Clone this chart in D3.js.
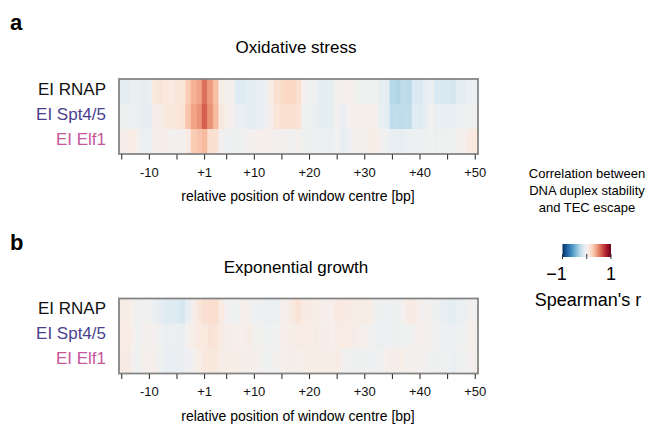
<!DOCTYPE html>
<html lang="en">
<head>
<meta charset="UTF-8">
<title>Duplex stability vs TEC escape</title>
<script src="https://d3js.org/d3.v7.min.js"></script>
<style>
  body { margin: 0; background: #fff; }
  svg text { font-family: "Liberation Sans", Arial, Helvetica, sans-serif; }
</style>
</head>
<body>
<svg id="chart" width="649" height="424"></svg>
<script>
// window centre positions (no position 0)
var positions = [-15,-14,-13,-12,-11,-10,-9,-8,-7,-6,-5,-4,-3,-2,-1,
  1,2,3,4,5,6,7,8,9,10,11,12,13,14,15,16,17,18,19,20,21,22,23,24,25,
  26,27,28,29,30,31,32,33,34,35,36,37,38,39,40,41,42,43,44,45,46,47,48,49,50];
var tickPositions = [-15,-10,-5,1,5,10,15,20,25,30,35,40,45,50];
var labelledTicks = [-10,1,10,20,30,40,50];

var rowNames = ["EI RNAP", "EI Spt4/5", "EI Elf1"];
var rowColors = ["#111111", "#4a3f8e", "#c5579b"];

// Spearman's r, oxidative stress
var oxRNAP = [-0.10,-0.10,-0.06,-0.06,-0.08,-0.05,0.10,0.12,0.10,0.08,0.12,0.12,0.25,0.35,0.40,
  0.55,0.42,0.30,0.05,0.00,0.00,-0.12,-0.12,-0.10,-0.10,-0.08,-0.05,0.05,0.15,0.18,
  0.20,0.20,0.15,0.02,-0.02,-0.04,-0.10,-0.10,-0.08,0.00,0.01,0.02,0.01,-0.02,-0.03,
  -0.02,-0.03,-0.08,-0.10,-0.28,-0.30,-0.25,-0.27,-0.15,-0.15,-0.10,-0.06,-0.15,-0.15,-0.15,
  -0.17,-0.10,-0.10,-0.06,-0.05];
var oxSpt = [-0.03,-0.03,-0.05,-0.05,-0.08,-0.08,0.04,0.06,0.10,0.10,0.12,0.14,0.28,0.40,0.45,
  0.60,0.45,0.32,0.10,0.05,0.02,-0.07,-0.07,-0.10,-0.10,-0.08,-0.05,0.04,0.12,0.15,
  0.15,0.15,0.14,-0.02,-0.03,-0.06,-0.08,-0.10,-0.08,0.00,-0.07,0.00,0.03,0.03,0.03,
  0.03,0.03,-0.07,-0.10,-0.25,-0.25,-0.25,-0.25,-0.12,-0.12,-0.08,-0.01,-0.07,-0.07,-0.07,
  -0.07,-0.04,-0.04,-0.02,-0.02];
var oxElf = [0.04,0.05,0.07,0.00,-0.06,-0.06,0.04,0.05,0.04,-0.01,-0.01,0.00,0.08,0.25,0.28,
  0.32,0.16,0.15,0.00,-0.04,-0.04,-0.03,-0.02,0.00,0.02,0.03,0.03,0.04,0.00,-0.01,
  -0.01,-0.02,0.02,-0.03,-0.04,-0.05,-0.06,-0.06,-0.05,-0.02,-0.08,-0.05,-0.01,0.00,0.00,
  0.06,0.05,0.00,-0.02,-0.07,-0.08,-0.07,-0.05,-0.04,-0.04,-0.03,-0.02,-0.03,-0.03,-0.02,
  -0.02,0.01,0.02,0.08,0.10];

// Spearman's r, exponential growth
var expRNAP = [0.05,0.07,0.02,-0.04,-0.01,-0.02,-0.05,-0.09,-0.12,-0.12,-0.13,-0.16,-0.07,0.04,0.11,
  0.15,0.16,0.17,0.08,0.00,-0.02,-0.02,0.05,0.01,-0.04,-0.04,-0.05,-0.05,-0.06,0.00,
  0.04,0.10,0.14,0.08,0.06,0.05,0.05,0.03,0.03,0.09,0.08,0.08,0.06,0.06,0.06,
  0.05,-0.03,-0.04,-0.04,-0.04,-0.03,0.00,0.08,0.07,0.02,0.00,-0.01,-0.04,-0.07,-0.08,
  -0.10,-0.06,-0.05,0.00,-0.01];
var expSpt = [0.06,0.07,0.03,-0.03,0.02,0.00,0.00,-0.04,-0.07,-0.05,-0.05,-0.07,0.02,0.05,0.09,
  0.10,0.13,0.12,0.07,0.04,0.04,0.03,0.03,0.06,0.01,-0.01,-0.02,-0.02,-0.02,0.03,
  0.05,0.05,0.06,0.07,0.07,0.06,0.05,0.04,0.03,0.06,0.07,0.07,0.06,0.03,0.02,
  -0.01,-0.04,-0.05,-0.04,-0.04,-0.03,-0.02,-0.02,0.00,0.02,0.02,0.00,-0.04,-0.04,-0.05,
  -0.05,-0.02,-0.02,0.03,0.04];
var expElf = [0.07,0.08,0.00,-0.03,0.03,0.00,0.04,-0.03,-0.07,-0.07,-0.07,-0.05,-0.04,0.00,0.05,
  0.10,0.10,0.10,0.05,0.05,0.05,0.05,0.04,0.04,0.04,0.00,-0.02,-0.02,-0.01,0.03,
  0.04,0.04,0.03,0.05,0.05,0.05,0.05,0.05,0.05,0.07,0.00,-0.03,-0.03,-0.03,-0.04,
  -0.04,-0.04,-0.01,0.03,0.04,0.05,0.05,0.00,0.02,0.00,0.00,-0.03,-0.04,-0.02,-0.04,
  -0.07,-0.03,-0.02,0.00,0.04];

var svg = d3.select("#chart");

// -1 -> blue, +1 -> red
var color = function (v) { return d3.interpolateRdBu((1 - v) / 2); };

var x = d3.scaleBand().domain(positions).range([119, 478]).padding(0);

function drawPanel(letter, title, top, series) {
  var y = d3.scaleBand().domain(rowNames).range([top, top + 75]).padding(0);

  svg.append("text").attr("x", 10).attr("y", top - 49)
    .style("font-size", "22px").style("font-weight", "bold").text(letter);

  svg.append("text").attr("x", 296).attr("y", top - 26)
    .attr("text-anchor", "middle").style("font-size", "17px").text(title);

  // cells
  var g = svg.append("g");
  series.forEach(function (vals, r) {
    g.selectAll(null)
      .data(vals)
      .enter().append("rect")
      .attr("x", function (d, i) { return x(positions[i]); })
      .attr("y", y(rowNames[r]))
      .attr("width", x.bandwidth() + 0.4)
      .attr("height", y.bandwidth() + 0.4)
      .attr("fill", function (d) { return color(d); });
  });

  // frame
  svg.append("rect")
    .attr("x", 119).attr("y", top).attr("width", 359).attr("height", 75)
    .attr("fill", "none").attr("stroke", "#858585").attr("stroke-width", 1.8);

  // row labels
  svg.append("g").selectAll("text")
    .data(rowNames).enter().append("text")
    .attr("x", 106)
    .attr("y", function (d) { return y(d) + y.bandwidth() / 2 + 3; })
    .attr("text-anchor", "end")
    .style("font-size", "17px")
    .attr("fill", function (d, i) { return rowColors[i]; })
    .text(function (d) { return d; });

  // x axis
  var axis = d3.axisBottom(x)
    .tickValues(tickPositions)
    .tickSize(5)
    .tickPadding(8)
    .tickFormat(function (d) {
      if (labelledTicks.indexOf(d) < 0) return "";
      return d > 0 ? "+" + d : String(d);
    });
  var ax = svg.append("g")
    .attr("transform", "translate(0," + (top + 75.5) + ")")
    .call(axis);
  ax.select(".domain").remove();
  ax.selectAll(".tick line").attr("stroke", "#222");
  ax.selectAll(".tick text")
    .style("font-size", "13px")
    .style("font-family", "'Liberation Sans', Arial, sans-serif")
    .attr("fill", "#111");

  svg.append("text").attr("x", 298).attr("y", top + 122)
    .attr("text-anchor", "middle").style("font-size", "14px")
    .text("relative position of window centre [bp]");
}

drawPanel("a", "Oxidative stress", 79, [oxRNAP, oxSpt, oxElf]);
drawPanel("b", "Exponential growth", 298.5, [expRNAP, expSpt, expElf]);

// colour legend
var legendTitle = ["Correlation between", "DNA duplex stability", "and TEC escape"];
svg.append("g").selectAll("text")
  .data(legendTitle).enter().append("text")
  .attr("x", 587)
  .attr("y", function (d, i) { return 178 + i * 17; })
  .attr("text-anchor", "middle")
  .style("font-size", "13px")
  .text(function (d) { return d; });

var lx = d3.scaleLinear().domain([-1, 1]).range([562.5, 611]);
var grad = svg.append("defs").append("linearGradient")
  .attr("id", "rdbu").attr("x1", "0%").attr("x2", "100%");
d3.range(0, 1.0001, 0.05).forEach(function (t) {
  grad.append("stop").attr("offset", (t * 100) + "%").attr("stop-color", color(-1 + 2 * t));
});
svg.append("rect")
  .attr("x", lx(-1)).attr("y", 244)
  .attr("width", lx(1) - lx(-1)).attr("height", 13)
  .attr("fill", "url(#rdbu)");
svg.append("g").selectAll("line")
  .data([-1, 0, 1]).enter().append("line")
  .attr("x1", function (d) { return lx(d); })
  .attr("x2", function (d) { return lx(d); })
  .attr("y1", 254).attr("y2", 259)
  .attr("stroke", "#333").attr("stroke-width", 1);
svg.append("text").attr("x", lx(-1) - 6).attr("y", 280)
  .attr("text-anchor", "middle").style("font-size", "18px").text("\u22121");
svg.append("text").attr("x", lx(1)).attr("y", 280)
  .attr("text-anchor", "middle").style("font-size", "18px").text("1");
svg.append("text").attr("x", 588).attr("y", 306)
  .attr("text-anchor", "middle").style("font-size", "18px").text("Spearman's r");
</script>
</body>
</html>
